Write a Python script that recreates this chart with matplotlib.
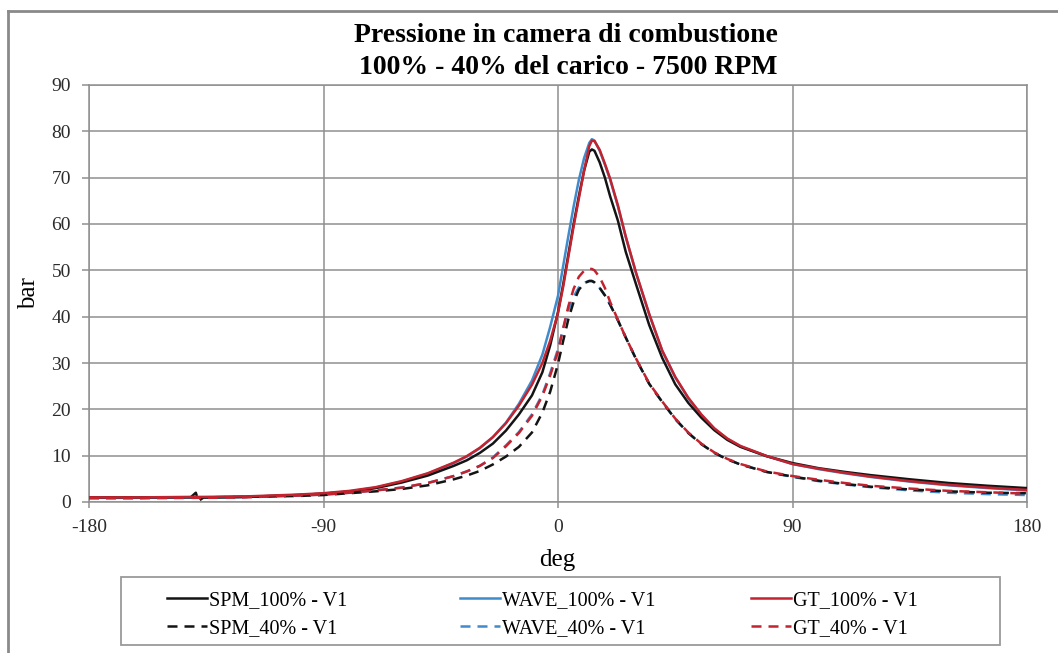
import matplotlib
matplotlib.use("Agg")
import matplotlib.pyplot as plt
from matplotlib.lines import Line2D
from matplotlib.patches import Rectangle

plt.rcParams['font.family'] = ['Liberation Serif', 'DejaVu Serif']
plt.rcParams['axes.unicode_minus'] = False

# angolo di manovella (deg) e pressioni (bar)
deg = [-180, -160, -141, -139, -138, -136, -120, -100, -90, -80, -70, -60, -50, -40,
       -35, -30, -25, -20, -15, -10, -6, -3, 0, 2, 4, 6, 8, 10, 12, 13, 14,
       16, 18, 20, 23, 26, 30, 35, 40, 45, 50, 55, 60, 65, 70, 80, 90, 100, 110, 120,
       135, 150, 165, 180]

spm_100 = [1.0, 1.0, 1.0, 1.0, 1.0, 1.0, 1.1, 1.5, 1.8, 2.2, 3.0, 4.2, 5.7, 7.8,
           9.0, 10.6, 12.6, 15.4, 18.9, 23.0, 28.0, 33.8, 41.0, 47.0, 53.5, 60.0, 66.0, 71.5, 75.6, 76.1, 75.8,
           73.3, 70.0, 66.0, 60.7, 54.0, 46.9, 38.2, 31.1, 25.4, 21.4, 18.2, 15.5, 13.4, 11.9, 9.9, 8.4, 7.3, 6.5, 5.8,
           4.9, 4.1, 3.5, 3.0]

wave_100 = [0.9, 0.9, 1.0, 1.0, 1.0, 1.0, 1.1, 1.5, 1.8, 2.3, 3.1, 4.4, 6.1, 8.4,
            9.8, 11.6, 14.0, 17.1, 21.2, 26.2, 31.8, 37.8, 44.5, 51.0, 57.5, 63.8, 69.5, 74.2, 77.5, 78.3, 78.0,
            75.8, 72.8, 69.6, 63.8, 57.2, 49.3, 40.5, 32.6, 26.9, 22.4, 18.8, 15.8, 13.6, 12.0, 9.9, 8.2, 7.1, 6.2, 5.4,
            4.4, 3.6, 3.0, 2.5]

gt_100 = [1.0, 1.0, 1.1, 1.1, 1.1, 1.1, 1.2, 1.6, 1.9, 2.4, 3.2, 4.5, 6.2, 8.5,
          9.9, 11.7, 14.0, 17.0, 20.8, 25.3, 30.0, 34.8, 40.8, 46.5, 53.0, 59.5, 65.5, 71.5, 76.8, 78.0, 77.9,
          76.0, 73.0, 69.8, 64.0, 57.3, 49.4, 40.6, 32.7, 27.0, 22.5, 18.9, 15.9, 13.7, 12.1, 9.95, 8.2, 7.2, 6.3, 5.5,
          4.5, 3.7, 3.1, 2.6]

spm_40 = [0.9, 0.9, 1.0, 2.0, 0.2, 1.0, 1.1, 1.3, 1.5, 1.9, 2.3, 2.8, 3.6, 4.9,
          5.7, 6.7, 8.1, 9.8, 11.9, 15.0, 19.3, 23.8, 29.8, 34.8, 39.5, 43.2, 45.8, 47.2, 47.7, 47.7, 47.4,
          46.2, 44.6, 42.6, 39.2, 35.5, 30.8, 25.5, 21.6, 17.9, 14.9, 12.5, 10.6, 9.2, 8.1, 6.5, 5.5, 4.6, 3.9, 3.3,
          2.7, 2.3, 2.0, 1.9]

wave_40 = [0.9, 0.9, 1.0, 1.0, 1.0, 1.0, 1.1, 1.4, 1.6, 2.0, 2.5, 3.1, 4.1, 5.6,
           6.6, 7.8, 9.6, 12.2, 15.1, 18.9, 23.2, 27.8, 33.0, 37.5, 41.5, 44.3, 46.3, 47.3, 47.7, 47.7, 47.4,
           46.2, 44.6, 42.6, 39.2, 35.5, 30.8, 25.5, 21.6, 17.9, 14.9, 12.5, 10.6, 9.2, 8.1, 6.5, 5.4, 4.5, 3.8, 3.2,
           2.5, 2.0, 1.7, 1.5]

gt_40 = [0.8, 0.8, 0.9, 0.9, 0.9, 0.9, 1.0, 1.4, 1.6, 2.0, 2.5, 3.1, 4.1, 5.6,
         6.6, 7.8, 9.5, 12.0, 14.9, 18.6, 22.9, 27.3, 32.5, 37.5, 42.3, 46.0, 48.6, 49.9, 50.3, 50.3, 50.0,
         48.5, 46.2, 43.2, 39.3, 35.5, 30.9, 25.6, 21.7, 18.0, 15.0, 12.6, 10.7, 9.3, 8.2, 6.6, 5.6, 4.8, 4.1, 3.5,
         2.9, 2.4, 2.1, 1.8]

x_ticks = [-180, -90, 0, 90, 180]
y_ticks = [0, 10, 20, 30, 40, 50, 60, 70, 80, 90]

black = '#141414'
blue = '#3f8bcc'
red = '#c3232e'
grid_col = '#8f8f8f'
lw = 1.8
dash = (4.0, 2.8)

fig = plt.figure(figsize=(10.58, 6.53), dpi=100)
W, H = 1058, 653
ax = fig.add_axes([89 / W, 1 - 502 / H, (1027 - 89) / W, (502 - 85) / H])

ax.plot(deg, wave_100, color=blue, lw=lw, zorder=3)
ax.plot(deg, spm_100, color=black, lw=lw, zorder=4)
ax.plot(deg, gt_100, color=red, lw=lw, zorder=5)
ax.plot(deg, wave_40, color=blue, lw=lw, dashes=dash, zorder=3)
ax.plot(deg, spm_40, color=black, lw=lw, dashes=dash, zorder=4)
ax.plot(deg, gt_40, color=red, lw=lw, dashes=dash, zorder=5)

ax.set_xlim(-180, 180)
ax.set_ylim(0, 90)
ax.set_xticks(x_ticks)
ax.set_yticks(y_ticks)
ax.grid(True, color=grid_col, lw=1.1)
ax.set_axisbelow(True)
for s in ax.spines.values():
    s.set_color(grid_col)
    s.set_linewidth(1.1)
ax.tick_params(axis='x', length=4, width=1.1, color=grid_col, pad=8, labelsize=14, labelcolor='#2b2b2b')
ax.tick_params(axis='y', length=5, width=1.1, color=grid_col, pad=8, labelsize=14, labelcolor='#2b2b2b')

# titolo e assi
fig.text(0.535, 1 - 42 / H, 'Pressione in camera di combustione', ha='center', va='baseline',
         fontsize=20, fontweight='bold')
fig.text(0.537, 1 - 74 / H, '100% - 40% del carico - 7500 RPM', ha='center', va='baseline',
         fontsize=20, fontweight='bold')
fig.text(29 / W, 1 - 293 / H, 'bar', rotation=90, ha='center', va='center', fontsize=18)
fig.text(557 / W, 1 - 566 / H, 'deg', ha='center', va='baseline', fontsize=18)

# bordo esterno
fig.add_artist(Line2D([8 / W, 8 / W], [0, 1 - 11 / H], transform=fig.transFigure, color='#8a8a8a', lw=2))
fig.add_artist(Line2D([8 / W, 1], [1 - 11 / H, 1 - 11 / H], transform=fig.transFigure, color='#8a8a8a', lw=2))

# legenda
fig.add_artist(Rectangle((121 / W, 1 - 645 / H), (1000 - 121) / W, (645 - 577) / H,
                         transform=fig.transFigure, fill=False, edgecolor='#9a9a9a', lw=1.3))
columns = [
    (167, black, ['SPM_100% - V1', 'SPM_40% - V1']),
    (460, blue, ['WAVE_100% - V1', 'WAVE_40% - V1']),
    (751, red, ['GT_100% - V1', 'GT_40% - V1']),
]
for x0, c, labels in columns:
    handles = [Line2D([], [], color=c, lw=lw),
               Line2D([], [], color=c, lw=lw, dashes=dash)]
    fig.legend(handles, labels, loc='upper left', bbox_to_anchor=(x0 / W, 1 - 591 / H),
               frameon=False, borderpad=0, borderaxespad=0, handlelength=2.0,
               handletextpad=0.1, labelspacing=0.42, fontsize=14.5)

fig.savefig('out.png', dpi=100)
